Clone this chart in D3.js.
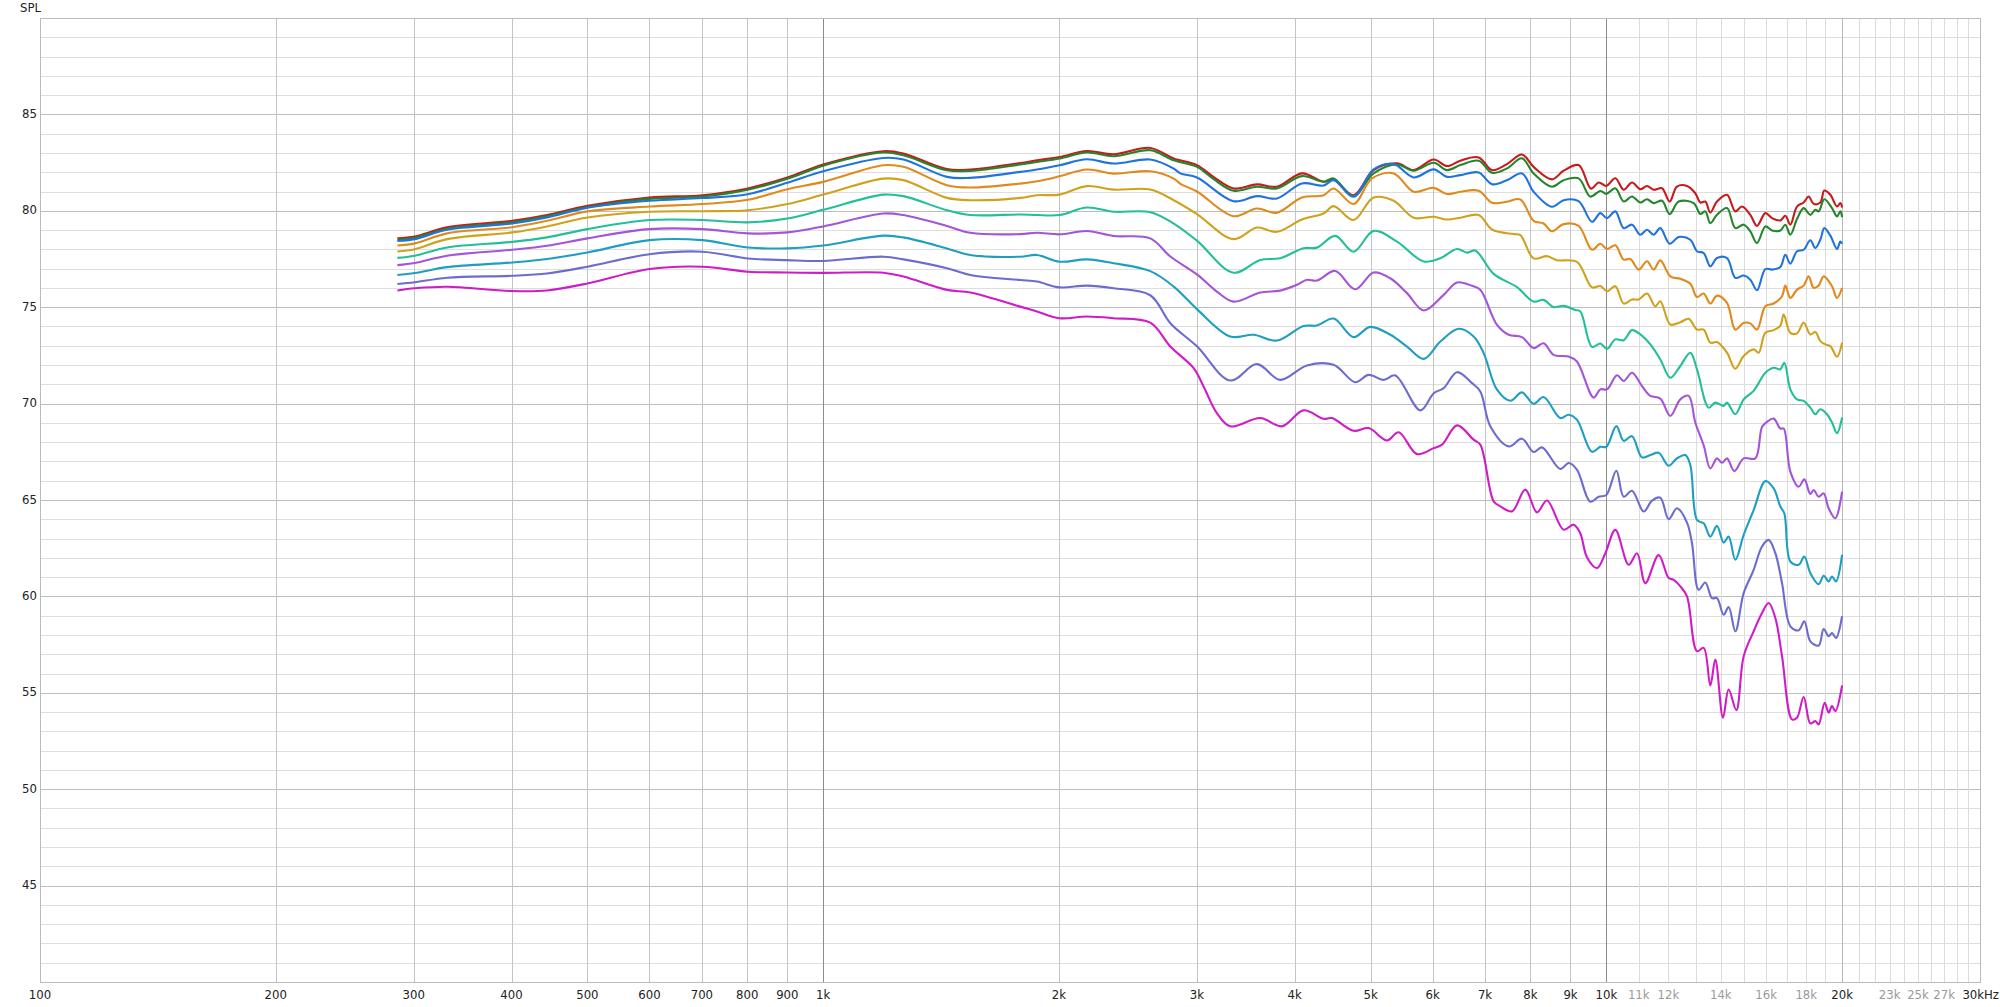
<!DOCTYPE html>
<html><head><meta charset="utf-8">
<script src="https://cdn.jsdelivr.net/npm/d3@7"></script>
<style>html,body{margin:0;padding:0;background:#fff;}svg{display:block;}</style>
</head><body><svg id="chart" width="2000" height="1007"></svg>
<script>
// ---------- DATA: [frequency Hz, SPL dB] ----------
const seriesNames = ["s1","s2","s3","s4","s5","s6","s7","s8","s9","s10"];
const seriesColors = ["#c81a1a","#24862c","#1f74dc","#e08a1c","#d0a21c","#22bf98","#a454d8","#1e9fc2","#6c6cd0","#d01cc6"];

const s1 = [[286,78.57],[301,78.67],[331,79.14],[401,79.48],[444,79.78],[500,80.26],[600,80.69],[701,80.81],[801,81.16],[900,81.73],[1000,82.40],[1194,83.09],[1266,82.97],[1439,82.16],[1541,82.14],[1785,82.48],[1875,82.62],[2004,82.79],[2171,83.10],[2349,82.93],[2616,83.26],[2803,82.71],[3001,82.37],[3150,81.76],[3342,81.16],[3580,81.37],[3796,81.25],[4086,81.94],[4355,81.51],[4485,81.63],[4756,80.81],[5045,82.11],[5404,82.46],[5676,82.11],[6020,82.66],[6260,82.32],[6510,82.60],[6871,82.77],[7145,82.11],[7467,82.42],[7804,82.92],[8075,82.28],[8522,81.63],[8820,82.08],[9217,82.37],[9560,81.15],[9777,81.47],[10000,81.29],[10268,81.69],[10523,81.09],[10784,81.47],[11051,81.12],[11270,81.29],[11493,81.09],[11778,81.17],[12046,80.48],[12309,81.26],[12676,81.29],[12990,80.91],[13183,80.43],[13378,80.48],[13576,79.91],[13845,80.48],[14258,80.83],[14612,79.97],[14901,80.22],[15271,79.79],[15573,79.22],[15960,79.88],[16276,79.62],[16680,79.50],[16927,79.74],[17177,79.28],[17516,80.22],[17863,80.43],[18128,80.74],[18397,80.36],[18761,80.43],[18983,81.05],[19321,80.83],[19703,80.22],[19897,80.40],[20000,80.17]];
const s2 = [[286,78.50],[301,78.60],[331,79.07],[401,79.41],[444,79.71],[500,80.19],[600,80.62],[701,80.74],[801,81.09],[900,81.66],[1000,82.34],[1194,83.02],[1266,82.88],[1439,82.10],[1541,82.07],[1785,82.40],[1875,82.53],[2004,82.71],[2171,83.02],[2349,82.83],[2616,83.14],[2803,82.62],[3001,82.28],[3150,81.65],[3342,81.04],[3580,81.25],[3796,81.16],[4086,81.80],[4355,81.51],[4485,81.68],[4756,80.76],[5045,81.94],[5404,82.40],[5676,82.08],[6020,82.49],[6260,82.11],[6510,82.37],[6871,82.60],[7145,81.97],[7467,82.20],[7804,82.72],[8075,81.94],[8522,81.25],[8820,81.59],[9217,81.68],[9538,80.74],[9825,81.03],[10000,80.88],[10268,81.17],[10523,80.48],[10784,80.74],[11051,80.43],[11270,80.60],[11493,80.40],[11778,80.52],[12046,79.83],[12370,80.48],[12927,80.40],[13183,79.84],[13378,79.97],[13576,79.36],[13845,79.79],[14258,80.14],[14612,79.10],[14975,79.28],[15271,78.93],[15573,78.33],[15960,79.19],[16276,78.98],[16680,78.98],[16927,79.28],[17177,78.76],[17516,79.57],[17863,80.14],[18217,79.79],[18487,80.05],[18669,79.97],[18983,80.60],[19416,80.14],[19703,79.71],[19897,79.97],[20000,79.67]];
const s3 = [[286,78.43],[301,78.53],[331,79.02],[401,79.34],[444,79.65],[500,80.16],[600,80.52],[701,80.66],[801,80.86],[900,81.45],[1000,82.05],[1194,82.74],[1266,82.66],[1439,81.76],[1541,81.71],[1785,82.02],[1875,82.14],[2004,82.36],[2171,82.67],[2349,82.45],[2616,82.66],[2803,82.19],[2858,81.94],[3001,81.73],[3342,80.50],[3580,80.76],[3796,80.64],[4086,81.42],[4355,81.31],[4485,81.59],[4756,80.73],[5045,82.15],[5352,82.42],[5676,81.73],[6020,82.15],[6260,81.76],[6510,81.85],[6871,81.99],[7145,81.38],[7467,81.59],[7804,81.94],[8075,80.99],[8522,80.21],[8820,80.55],[9217,80.50],[9587,79.43],[9825,79.88],[10020,79.62],[10268,79.97],[10523,79.10],[10784,79.28],[11051,78.76],[11270,79.02],[11493,78.76],[11720,79.10],[12046,78.29],[12370,78.64],[12801,78.50],[13054,77.90],[13313,77.81],[13576,77.12],[13845,77.55],[14258,77.55],[14612,76.52],[14975,76.64],[15271,76.43],[15573,75.88],[15960,76.98],[16276,76.95],[16680,77.09],[16927,77.72],[17177,77.26],[17516,77.90],[17863,77.98],[18217,78.47],[18487,78.07],[18761,78.50],[18983,79.10],[19321,78.71],[19703,78.02],[19897,78.41],[20000,78.29]];
const s4 = [[286,78.20],[301,78.31],[331,78.83],[401,79.15],[444,79.48],[500,79.97],[600,80.22],[701,80.35],[801,80.57],[900,81.12],[1000,81.50],[1194,82.36],[1266,82.28],[1439,81.33],[1541,81.21],[1785,81.41],[1875,81.53],[2004,81.79],[2171,82.14],[2349,81.93],[2616,82.05],[2803,81.67],[2858,81.40],[3001,81.00],[3342,79.72],[3580,80.12],[3796,79.90],[4086,80.69],[4355,80.81],[4485,81.16],[4756,80.35],[5021,81.68],[5352,81.94],[5676,80.99],[6020,81.19],[6260,80.87],[6510,80.99],[6871,81.04],[7145,80.42],[7467,80.47],[7766,80.59],[8075,79.48],[8316,79.34],[8522,78.94],[8820,79.31],[9217,79.22],[9587,77.98],[9825,78.29],[10020,78.02],[10268,78.21],[10523,77.47],[10731,77.50],[10997,76.95],[11270,77.38],[11493,76.95],[11720,77.43],[12070,76.60],[12430,76.47],[12801,76.22],[13054,75.53],[13313,75.71],[13576,75.19],[13845,75.60],[14258,75.22],[14612,73.84],[14975,74.19],[15271,74.16],[15573,73.84],[15960,75.05],[16356,75.19],[16762,75.57],[16927,76.12],[17177,75.48],[17516,75.91],[17863,76.12],[18128,76.60],[18397,76.00],[18669,76.12],[18946,76.60],[19416,76.09],[19703,75.48],[20000,76.00]];
const s5 = [[286,77.89],[301,78.01],[331,78.53],[401,78.88],[444,79.19],[500,79.65],[600,79.95],[701,79.98],[801,80.03],[900,80.35],[1000,80.84],[1194,81.67],[1266,81.59],[1439,80.67],[1541,80.55],[1785,80.67],[1875,80.81],[2004,80.84],[2171,81.28],[2349,81.10],[2616,81.10],[2803,80.55],[3001,79.83],[3342,78.53],[3580,79.13],[3796,78.91],[4086,79.55],[4355,79.86],[4485,80.24],[4756,79.52],[5045,80.69],[5352,80.52],[5676,79.64],[6020,79.69],[6260,79.55],[6510,79.64],[6871,79.78],[7145,79.03],[7615,78.79],[7766,78.74],[8075,77.53],[8398,77.65],[8648,77.44],[9172,77.35],[9587,76.03],[9825,76.10],[10020,75.83],[10268,76.09],[10523,75.19],[10784,75.40],[10997,75.40],[11270,75.71],[11549,75.05],[11720,75.31],[12070,74.10],[12430,74.22],[12738,74.40],[13054,73.84],[13313,73.84],[13576,73.16],[13845,73.19],[14258,72.64],[14612,71.81],[14975,72.47],[15421,72.81],[15650,72.64],[15960,73.67],[16356,73.81],[16680,74.05],[16844,74.62],[17177,73.67],[17516,73.64],[17863,74.19],[18217,73.59],[18487,73.71],[18761,73.24],[19039,73.07],[19321,72.98],[19703,72.43],[20000,73.16]];
const s6 = [[286,77.56],[301,77.67],[331,78.10],[401,78.39],[444,78.62],[500,79.05],[600,79.52],[701,79.52],[801,79.40],[900,79.60],[1000,80.05],[1194,80.84],[1266,80.76],[1439,80.03],[1541,79.78],[1785,79.81],[1875,79.78],[2004,79.78],[2171,80.17],[2349,79.95],[2616,79.93],[2803,79.34],[3001,78.45],[3342,76.79],[3615,77.45],[3833,77.54],[4106,78.06],[4270,78.09],[4507,78.70],[4756,77.88],[5045,78.96],[5404,78.40],[5846,77.37],[6139,77.54],[6447,78.02],[6639,77.83],[6803,77.94],[7180,76.73],[7690,76.04],[8075,75.29],[8316,75.38],[8564,75.00],[8820,75.07],[9127,74.86],[9262,74.79],[9587,72.94],[9825,73.12],[10020,72.84],[10268,73.33],[10523,73.29],[10784,73.81],[11051,73.59],[11381,73.07],[11720,72.29],[12070,71.34],[12430,71.95],[12801,72.64],[13054,71.78],[13510,69.79],[13777,70.05],[14119,69.88],[14258,70.05],[14612,69.45],[14975,70.22],[15421,70.66],[15960,71.60],[16356,71.86],[16680,71.78],[16877,72.12],[17177,70.74],[17516,70.22],[17863,70.14],[18217,69.79],[18487,69.45],[18761,69.71],[19132,69.45],[19416,69.02],[19703,68.47],[20000,69.28]];
const s7 = [[286,77.18],[301,77.29],[331,77.67],[401,77.98],[444,78.19],[500,78.57],[600,79.05],[701,79.05],[801,78.83],[900,78.88],[1000,79.19],[1194,79.86],[1266,79.78],[1439,79.21],[1541,78.86],[1785,78.79],[1875,78.86],[2004,78.78],[2171,78.95],[2349,78.69],[2616,78.57],[2775,77.63],[3001,76.70],[3182,75.81],[3342,75.29],[3615,75.76],[3833,75.86],[4027,76.16],[4147,76.42],[4270,76.38],[4507,76.88],[4780,75.93],[5045,76.80],[5299,76.50],[5565,75.73],[5846,74.83],[6199,75.64],[6447,76.28],[6737,76.11],[6904,75.90],[7251,74.08],[7504,73.57],[7804,73.45],[8075,72.88],[8316,73.13],[8564,72.53],[8951,72.44],[9172,72.18],[9634,70.31],[9825,70.74],[10020,70.74],[10319,71.47],[10523,71.17],[10784,71.60],[11105,70.91],[11381,70.40],[11720,70.26],[12070,69.36],[12430,70.22],[12738,70.40],[12990,69.02],[13313,67.84],[13576,66.64],[13845,67.16],[14050,66.93],[14258,67.16],[14569,66.50],[14975,67.16],[15497,67.16],[15804,68.79],[16038,69.05],[16356,69.22],[16680,68.71],[16844,68.71],[17177,66.47],[17603,65.69],[17898,66.07],[18217,65.31],[18397,65.52],[18669,65.17],[18946,65.34],[19226,64.57],[19606,64.05],[20000,65.43]];
const s8 = [[286,76.67],[301,76.77],[331,77.08],[401,77.32],[444,77.50],[500,77.84],[600,78.48],[701,78.48],[801,78.10],[900,78.05],[1000,78.20],[1194,78.71],[1266,78.62],[1439,78.05],[1541,77.71],[1785,77.62],[1875,77.71],[2004,77.36],[2171,77.48],[2349,77.28],[2616,76.87],[2803,76.07],[3001,74.90],[3310,73.48],[3545,73.57],[3796,73.27],[4106,74.03],[4270,74.05],[4485,74.41],[4756,73.45],[4995,73.98],[5299,73.57],[5565,72.96],[5846,72.32],[6139,73.22],[6478,73.88],[6770,73.48],[6972,72.62],[7251,70.72],[7541,70.15],[7804,70.58],[8075,69.99],[8316,70.34],[8734,69.25],[8951,69.42],[9172,69.16],[9587,67.50],[9825,67.76],[10000,67.76],[10299,68.83],[10523,68.07],[10784,68.31],[11105,67.21],[11381,67.33],[11663,67.45],[12011,66.78],[12309,67.16],[12614,67.33],[12801,66.81],[13054,63.97],[13313,63.79],[13576,63.10],[13845,63.66],[14119,62.79],[14328,63.10],[14612,61.90],[14975,63.19],[15421,64.48],[15960,65.98],[16356,65.60],[16680,64.66],[16877,64.31],[17177,61.81],[17603,61.64],[17898,62.07],[18217,61.21],[18669,60.64],[18946,61.07],[19226,60.78],[19416,61.03],[19645,60.78],[20000,62.16]];
const s9 = [[286,76.20],[301,76.29],[331,76.53],[401,76.63],[444,76.75],[500,77.10],[600,77.75],[701,77.88],[801,77.53],[900,77.44],[1000,77.40],[1194,77.62],[1266,77.48],[1439,77.02],[1541,76.67],[1785,76.41],[1875,76.33],[2004,76.03],[2171,76.12],[2349,75.98],[2616,75.62],[2775,74.17],[3001,72.97],[3310,71.20],[3580,72.05],[3833,71.23],[4147,71.98],[4485,72.01],[4780,71.11],[4971,71.49],[5196,71.23],[5377,71.46],[5788,69.65],[6020,70.54],[6199,70.80],[6447,71.63],[6737,71.06],[6904,70.63],[7110,68.82],[7504,67.78],[7804,68.18],[8075,67.49],[8276,67.73],[8734,66.61],[8951,66.92],[9172,66.57],[9538,64.91],[9777,65.17],[10000,65.26],[10299,66.52],[10523,65.17],[10784,65.48],[11160,64.40],[11437,64.97],[11720,65.12],[12011,64.00],[12309,64.57],[12676,63.83],[12864,62.76],[13118,60.34],[13378,60.72],[13643,59.91],[13845,59.91],[14119,59.05],[14328,59.45],[14612,58.19],[14975,60.17],[15421,61.38],[15804,62.59],[16117,62.93],[16436,62.24],[16762,60.69],[17177,58.45],[17603,58.24],[17898,58.71],[18217,57.67],[18669,57.45],[18946,58.31],[19226,57.93],[19416,58.10],[19645,57.84],[20000,58.97]];
const s10 = [[286,75.87],[301,75.98],[331,76.06],[401,75.84],[444,75.87],[500,76.23],[600,76.98],[701,77.10],[801,76.84],[900,76.80],[1000,76.78],[1194,76.79],[1266,76.59],[1439,75.90],[1541,75.76],[1785,75.03],[1875,74.78],[2004,74.43],[2171,74.52],[2349,74.43],[2616,74.20],[2775,72.96],[2972,71.84],[3060,70.89],[3182,69.51],[3310,68.82],[3615,69.25],[3852,68.82],[4106,69.65],[4355,69.21],[4461,69.25],[4756,68.59],[4971,68.73],[5247,68.09],[5430,68.51],[5731,67.38],[6020,67.69],[6169,67.87],[6447,68.87],[6770,68.13],[6904,67.87],[7180,64.93],[7322,64.67],[7578,64.41],[7881,65.54],[8155,64.36],[8398,64.97],[8820,63.46],[9084,63.72],[9262,63.28],[9446,62.03],[9729,61.47],[9971,62.24],[10268,63.45],[10679,61.64],[10943,62.24],[11215,60.69],[11663,62.14],[12011,60.95],[12189,60.86],[12430,60.52],[12676,60.00],[13054,57.16],[13313,57.33],[13576,55.38],[13777,56.72],[14091,53.71],[14328,55.17],[14655,54.10],[14975,56.90],[15421,58.19],[15804,59.14],[16117,59.66],[16436,58.88],[16762,56.90],[17262,53.62],[17516,53.71],[17863,54.78],[18217,53.41],[18487,53.53],[18669,53.36],[19001,54.48],[19226,53.97],[19416,54.31],[19606,54.05],[20000,55.38]];
const allSeries = [s1,s2,s3,s4,s5,s6,s7,s8,s9,s10];

const xTickValues = [100,200,300,400,500,600,700,800,900,1000,2000,3000,4000,5000,6000,7000,8000,9000,10000,11000,12000,14000,16000,18000,20000,23000,25000,27000];
const xTickLabels = ["100","200","300","400","500","600","700","800","900","1k","2k","3k","4k","5k","6k","7k","8k","9k","10k","11k","12k","14k","16k","18k","20k","23k","25k","27k"];
const xTickMuted = ["11k","12k","14k","16k","18k","23k","25k","27k"];
const yTickValues = [45,50,55,60,65,70,75,80,85];
const yAxisTitle = "SPL";
const xUnitLabel = "30kHz";

// ---------- LAYOUT ----------
const L = 40, R = 1980, T = 18, B = 982;
const x = d3.scaleLog().domain([100, 30000]).range([L, R]);
const y = d3.scaleLinear().domain([40, 90]).range([B, T]);
const svg = d3.select("#chart");
const FONT = "'Liberation Sans Narrow','DejaVu Sans Condensed','Liberation Sans',sans-serif";

svg.append("rect").attr("width",2000).attr("height",1007).attr("fill","#fff");

// horizontal grid (1 dB minor, 5 dB major)
const gH = svg.append("g");
gH.selectAll("line").data(d3.range(41, 90)).join("line")
  .attr("x1", L).attr("x2", R)
  .attr("y1", d => Math.round(y(d)) + 0.5).attr("y2", d => Math.round(y(d)) + 0.5)
  .attr("stroke", d => d % 5 === 0 ? "#bdbdbd" : "#dedede").attr("stroke-width", 1);

// vertical grid
const vGrid = [].concat(d3.range(200, 1000, 100), d3.range(1000, 10001, 1000), d3.range(11000, 30000, 1000));
const gV = svg.append("g");
gV.selectAll("line").data(vGrid).join("line")
  .attr("y1", T).attr("y2", B)
  .attr("x1", d => Math.round(x(d)) + 0.5).attr("x2", d => Math.round(x(d)) + 0.5)
  .attr("stroke", d => (d === 1000 || d === 10000) ? "#8c8c8c" : (d === 20000 ? "#b8b8b8" : (d > 10000 ? "#dcdcdc" : "#c4c4c4")))
  .attr("stroke-width", 1);

// frame
svg.append("rect").attr("x", L + 0.5).attr("y", T + 0.5).attr("width", R - L).attr("height", B - T)
  .attr("fill", "none").attr("stroke", "#bbbbbb").attr("stroke-width", 1);

// axis labels
svg.append("g").selectAll("text").data(xTickValues).join("text")
  .attr("x", d => x(d)).attr("y", 995)
  .attr("text-anchor", "middle").attr("dominant-baseline", "middle")
  .attr("font-family", FONT).attr("font-size", 13)
  .attr("fill", (d, i) => xTickMuted.includes(xTickLabels[i]) ? "#9a9a9a" : "#222")
  .text((d, i) => xTickLabels[i]);
svg.append("text").attr("x", 1999).attr("y", 995).attr("text-anchor", "end").attr("dominant-baseline", "middle")
  .attr("font-family", FONT).attr("font-size", 13).attr("fill", "#222").text(xUnitLabel);

svg.append("g").selectAll("text").data(yTickValues).join("text")
  .attr("x", 37).attr("y", d => y(d))
  .attr("text-anchor", "end").attr("dominant-baseline", "middle")
  .attr("font-family", FONT).attr("font-size", 13).attr("fill", "#222")
  .text(d => d);
svg.append("text").attr("x", 20).attr("y", 8).attr("dominant-baseline", "middle")
  .attr("font-family", FONT).attr("font-size", 13).attr("fill", "#222").text(yAxisTitle);

// curves
const line = d3.line().x(d => x(d[0])).y(d => y(d[1])).curve(d3.curveCatmullRom.alpha(0.5));
svg.append("g").selectAll("path").data(allSeries).join("path")
  .attr("d", d => line(d))
  .attr("fill", "none")
  .attr("stroke", (d, i) => seriesColors[i])
  .attr("stroke-width", 2.1)
  .attr("stroke-linejoin", "round");
</script></body></html>
